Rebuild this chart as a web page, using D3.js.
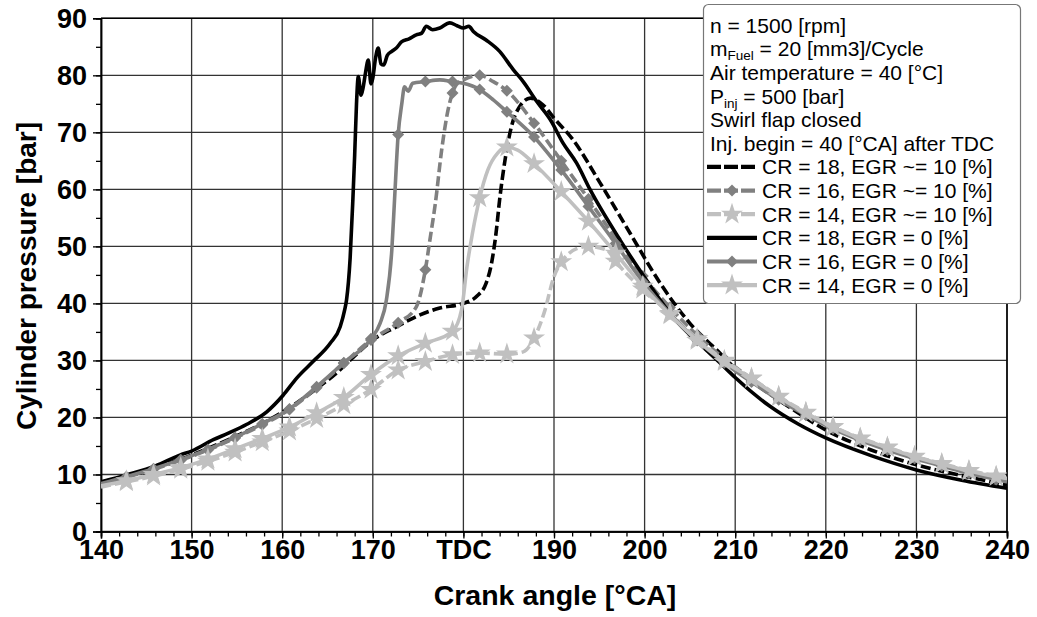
<!DOCTYPE html>
<html><head><meta charset="utf-8">
<script src="https://cdn.jsdelivr.net/npm/d3@7"></script>
<style>body{margin:0;background:#fff}svg{display:block;font-family:"Liberation Sans",Arial,sans-serif}</style>
</head><body><svg id="c" width="1037" height="617"></svg>
<script>
// ---------- data ----------
const xTickValues = [140,150,160,170,180,190,200,210,220,230,240];
const xTickLabels = ["140","150","160","170","TDC","190","200","210","220","230","240"];
const yTickValues = [0,10,20,30,40,50,60,70,80,90];
const infoLines = [
  [["n = 1500 [rpm]",0]],
  [["m",0],["Fuel",1],[" = 20 [mm3]/Cycle",0]],
  [["Air temperature = 40 [°C]",0]],
  [["P",0],["inj",1],[" = 500 [bar]",0]],
  [["Swirl flap closed",0]],
  [["Inj. begin = 40 [°CA] after TDC",0]]
];
const seriesNames = ["CR = 18, EGR ~= 10 [%]","CR = 16, EGR ~= 10 [%]","CR = 14, EGR ~= 10 [%]",
                     "CR = 18, EGR = 0 [%]","CR = 16, EGR = 0 [%]","CR = 14, EGR = 0 [%]"];

const cr18egr10 = [[140,8.6],[143,9.8],[146,11.2],[149,12.8],[152,14.7],[155,16.8],[158,19.1],[161,21.9],[164,25.3],[166,27.8],[168,30.8],[170,33.6],[172.6,35.9],[174.8,37.7],[177.4,39.2],[180,40.0],[181.5,41.3],[182.5,43.5],[183.1,47],[183.6,52.3],[184,58.2],[184.6,65.2],[185.3,71.0],[186.2,74.5],[187.4,76.0],[188.8,74.8],[190,72.5],[192.1,68.7],[195.1,61.1],[198.4,52.3],[201.7,43.6],[205,36.5],[208.3,31.3],[210,28.6],[213,25.0],[216,21.8],[220,17.8],[225,14.3],[230,11.7],[235,9.8],[240,8.2]];
const cr16egr10 = [[140,8.3],[142.8,9.5],[145.8,10.9],[148.8,12.5],[151.8,14.3],[154.8,16.4],[157.8,18.7],[160.8,21.4],[163.8,25.2],[166.8,29.5],[169.8,33.6],[172.8,36.6],[174.8,39.4],[175.8,45.9],[176.3,51.1],[176.9,57.5],[177.6,66.9],[178.3,73.9],[178.8,76.9],[179.2,78.3],[180,79.2],[181.8,80.0],[183.3,78.9],[184.8,77.3],[187.8,71.6],[190.8,65.0],[193.8,58.3],[196.8,51.4],[199.8,44.8],[202.8,39.3],[205.8,34.4],[208.8,30.3],[211.8,26.8],[214.8,23.6],[217.8,20.7],[220.8,18.3],[223.8,16.3],[226.8,14.6],[229.8,13.1],[232.8,11.8],[235.8,10.5],[238.8,9.4],[240,9.0]];
const cr14egr10 = [[140,7.8],[142.8,8.7],[145.8,9.7],[148.8,10.9],[151.8,12.3],[154.8,13.9],[157.8,15.7],[160.8,17.6],[163.8,19.8],[166.8,22.2],[169.8,24.9],[172.8,28.3],[175.8,29.8],[178.8,31.0],[181.8,31.3],[184.8,31.1],[186.6,31.5],[187.8,33.9],[188.9,38.3],[190,44.7],[190.8,47.3],[191.4,48.4],[192.5,49.6],[193.8,50.0],[195.8,49.4],[196.8,47.4],[198,45.2],[199.8,42.5],[202.8,38.2],[205.8,33.8],[208.8,30.0],[211.8,26.9],[214.8,23.7],[217.8,20.9],[220.8,18.4],[223.8,16.4],[226.8,14.8],[229.8,13.2],[232.8,11.9],[235.8,10.7],[238.8,9.7],[240,9.3]];
const cr18egr0 = [[140,8.7],[143,10.0],[146,11.5],[148.7,13.4],[150,14.1],[152.4,16.1],[154,17.2],[156.1,18.8],[158.3,21.0],[160.1,23.9],[161.6,26.9],[163.4,29.8],[165.3,33.0],[166.4,35.9],[166.9,38.9],[167.1,40.6],[167.5,48],[167.8,58.2],[168.0,66],[168.2,75],[168.4,79.8],[168.7,76.5],[168.95,78.0],[169.2,80.5],[169.5,82.7],[169.8,78.5],[170,79.5],[170.3,83],[170.6,84.8],[170.9,82],[171.2,81.8],[171.6,83.5],[172.1,84.2],[172.6,84.8],[173.2,85.9],[174.0,86.4],[174.8,87.1],[175.4,87.4],[175.9,88.6],[176.6,88.0],[177.4,88.3],[178.5,89.2],[179.3,88.7],[180,88.3],[180.6,88.6],[181.1,87.7],[182.5,86.2],[184,84.2],[185.5,81.0],[186.6,78.9],[188.1,75.4],[189.6,72.2],[191,68.1],[192.5,64.6],[194,59.9],[197.3,51.1],[200.2,44.1],[203.3,37.3],[206,33.0],[208.5,29.3],[210,27.0],[213.8,22.0],[217,18.8],[220,16.4],[225,13.3],[230,10.8],[235,9.0],[240,7.6]];
const cr16egr0 = [[140,8.4],[142.8,9.6],[145.8,11.0],[148.8,12.6],[151.8,14.4],[154.8,16.5],[157.8,18.9],[160.8,21.5],[163.8,25.4],[166.8,29.6],[169.8,33.8],[170.8,36.5],[171.5,40.6],[172.1,49.4],[172.4,58.2],[172.8,69.6],[173.2,75.0],[173.5,78.0],[173.9,77.2],[174.4,78.6],[175.8,78.9],[177.4,79.2],[178.8,78.9],[180,78.6],[181.8,77.5],[183.3,75.7],[184.8,73.6],[187.8,69.2],[190.8,63.4],[193.8,57.0],[196.8,50.5],[199.8,43.8],[202.8,38.2],[205.8,33.5],[208.8,29.6],[211.8,26.2],[214.8,23.1],[217.8,20.4],[220.8,18.0],[223.8,16.0],[226.8,14.3],[229.8,12.8],[232.8,11.5],[235.8,10.2],[238.8,9.1],[240,8.7]];
const cr14egr0 = [[140,8.0],[142.8,8.9],[145.8,10.0],[148.8,11.2],[151.8,12.7],[154.8,14.5],[157.8,16.3],[160.8,18.3],[163.8,20.8],[166.8,23.5],[169.8,27.5],[172.8,30.8],[175.8,33.0],[178.8,35.1],[179.8,38.9],[180.4,46.5],[181,52.3],[181.8,58.5],[182.7,63.4],[183.8,66.4],[184.8,67.4],[186,66.9],[187.8,64.5],[190.8,59.6],[193.8,54.4],[196.8,48.8],[199.8,43.0],[202.8,38.0],[205.8,33.5],[208.8,29.8],[211.8,26.8],[214.8,23.6],[217.8,20.8],[220.8,18.3],[223.8,16.3],[226.8,14.7],[229.8,13.1],[232.8,11.8],[235.8,10.6],[238.8,9.6],[240,9.3]];

const seriesData = [cr18egr10, cr16egr10, cr14egr10, cr18egr0, cr16egr0, cr14egr0];
const seriesColor = ["#000000","#808080","#c0c0c0","#000000","#808080","#c0c0c0"];
const seriesDash  = ["10,4","10,4","10,4",null,null,null];
const seriesMarker= [null,"diamond","star",null,"diamond","star"];
const markerStart = 142.8, markerStep = 3;

// ---------- layout ----------
const svg = d3.select("#c");
const L = 101, R = 1007, T = 18.3, B = 531.5;
const x = d3.scaleLinear().domain([140,240]).range([L,R]);
const y = d3.scaleLinear().domain([0,90]).range([B,T]);

// grid
const g = svg.append("g");
g.selectAll(".vg").data(xTickValues).join("line")
  .attr("x1",d=>x(d)).attr("x2",d=>x(d)).attr("y1",T).attr("y2",B)
  .attr("stroke","#333").attr("stroke-width",1.3);
g.selectAll(".hg").data(yTickValues).join("line")
  .attr("x1",L).attr("x2",R).attr("y1",d=>y(d)).attr("y2",d=>y(d))
  .attr("stroke","#333").attr("stroke-width",1.3);

// axes
const xAxis = d3.axisBottom(x).tickValues(xTickValues).tickSize(7).tickFormat((d,i)=>xTickLabels[i]);
const xMinor = d3.axisBottom(x).tickValues(d3.range(140,241,2)).tickSize(5).tickFormat("");
const yAxis = d3.axisLeft(y).tickValues(yTickValues).tickSize(8).tickFormat(d3.format("d"));
const yMinor = d3.axisLeft(y).tickValues(d3.range(0,91,5)).tickSize(5).tickFormat("");
function style(sel){
  sel.select(".domain").attr("stroke","#000").attr("stroke-width",1.5);
  sel.selectAll(".tick line").attr("stroke","#000").attr("stroke-width",1.3);
  sel.selectAll("text").attr("font-family","Liberation Sans, Arial, sans-serif")
     .attr("font-weight","bold").attr("font-size",27).attr("fill","#000");
}
svg.append("g").attr("transform",`translate(0,${B})`).call(xMinor).call(style);
svg.append("g").attr("transform",`translate(0,${B})`).call(xAxis).call(style)
  .selectAll("text").attr("dy","0.66em");
svg.append("g").attr("transform",`translate(${L},0)`).call(yMinor).call(style);
svg.append("g").attr("transform",`translate(${L},0)`).call(yAxis).call(style)
  .selectAll("text").attr("x",-14).attr("dy","0.34em");
// frame top/right
svg.append("line").attr("x1",L).attr("x2",R).attr("y1",T).attr("y2",T).attr("stroke","#000").attr("stroke-width",1.5);
svg.append("line").attr("x1",R).attr("x2",R).attr("y1",T).attr("y2",B).attr("stroke","#000").attr("stroke-width",1.5);

// axis titles
svg.append("text").attr("x",555).attr("y",605).attr("text-anchor","middle")
  .attr("font-weight","bold").attr("font-size",28.5).text("Crank angle [°CA]");
svg.append("text").attr("transform","translate(36,276) rotate(-90)").attr("text-anchor","middle")
  .attr("font-weight","bold").attr("font-size",28).text("Cylinder pressure [bar]");

// clip
svg.append("clipPath").attr("id","clip").append("rect").attr("x",L).attr("y",T-3).attr("width",R-L).attr("height",B-T+3);

const line = d3.line().x(d=>x(d[0])).y(d=>y(d[1])).curve(d3.curveMonotoneX);
const starSym = d3.symbol().type(d3.symbolStar).size(150);
const diaSym = d3.symbol().type(d3.symbolSquare).size(72);
function isMarker(v){ const k=(v-markerStart)/markerStep; return k>=-1e-6 && Math.abs(k-Math.round(k))<1e-6; }

const plot = svg.append("g").attr("clip-path","url(#clip)");
seriesData.forEach((data,i)=>{
  plot.append("path").datum(data).attr("d",line).attr("fill","none")
    .attr("stroke",seriesColor[i]).attr("stroke-width",3.6)
    .attr("stroke-linejoin","round")
    .attr("stroke-dasharray",seriesDash[i]);
  if(seriesMarker[i]){
    const pts = data.filter(d=>isMarker(d[0]));
    plot.selectAll(null).data(pts).join("path")
      .attr("transform",d=>`translate(${x(d[0])},${y(d[1])})`+(seriesMarker[i]==="diamond"?" rotate(45)":""))
      .attr("d",seriesMarker[i]==="diamond"?diaSym:starSym)
      .attr("fill",seriesColor[i]);
  }
});

// legend
const lg = svg.append("g");
lg.append("rect").attr("x",703.5).attr("y",4.5).attr("width",317).attr("height",299).attr("rx",5)
  .attr("fill","#fff").attr("stroke","#777").attr("stroke-width",1.2);
const lineH = 23.65, firstY = 25;
infoLines.forEach((parts,i)=>{
  const t = lg.append("text").attr("x",710).attr("y",firstY+i*lineH).attr("dy","0.36em")
    .attr("font-size",21).attr("fill","#000");
  parts.forEach((p,j)=>{
    const ts = t.append("tspan").text(p[0]);
    if(p[1]) ts.attr("font-size",13.5).attr("dy",4);
    else if(j>0) ts.attr("dy",-4);
  });
});
seriesNames.forEach((name,i)=>{
  const cy = firstY+(i+6)*lineH;
  lg.append("line").attr("x1",707).attr("x2",757).attr("y1",cy).attr("y2",cy)
    .attr("stroke",seriesColor[i]).attr("stroke-width",4.2).attr("stroke-dasharray",i<3?"14,3":null);
  if(seriesMarker[i]){
    lg.append("path").attr("transform",`translate(732,${cy})`+(seriesMarker[i]==="diamond"?" rotate(45)":""))
      .attr("d",seriesMarker[i]==="diamond"?diaSym:starSym).attr("fill",seriesColor[i]);
  }
  lg.append("text").attr("x",762).attr("y",cy).attr("dy","0.36em").attr("font-size",21).text(name);
});
</script></body></html>
